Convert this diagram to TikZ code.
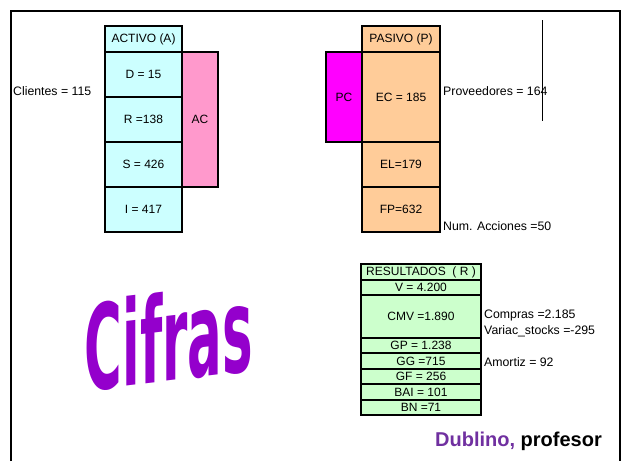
\documentclass[tikz,border=0pt]{standalone}
\usepackage{fontspec}
\setmainfont{Liberation Sans}
\newfontfamily\cifrasfont{DejaVu Sans}
\usetikzlibrary{shapes,arrows,positioning,calc,fit}
\usepackage{xcolor}
\definecolor{celeste}{HTML}{CCFFFF}
\definecolor{rosa}{HTML}{FF99CC}
\definecolor{salmon}{HTML}{FFCC99}
\definecolor{fucsia}{HTML}{FF00FF}
\definecolor{verde}{HTML}{CCFFCC}
\definecolor{morado}{HTML}{7030A0}
\definecolor{cifrascolor}{HTML}{9400CC}

\begin{document}
\begin{tikzpicture}[x=1pt, y=-1pt]
    \tikzstyle{celda} = [rectangle, draw, line width=1.2pt, inner sep=0pt, text centered, font=\fontsize{12}{14}\selectfont]
    \tikzstyle{activo} = [celda, fill=celeste, minimum width=77pt, minimum height=45pt]
    \tikzstyle{pasivo} = [celda, fill=salmon, minimum width=78pt, minimum height=45pt]
    \tikzstyle{lateral} = [celda, minimum width=36pt]
    \tikzstyle{resultado} = [celda, fill=verde, line width=1.6pt, minimum width=120pt, minimum height=15.5pt]
    \tikzstyle{texto} = [anchor=west, inner sep=0pt, font=\fontsize{12.3}{14}\selectfont]
    \tikzstyle{letrero} = [inner sep=0pt, text=cifrascolor, font=\cifrasfont\bfseries\fontsize{118}{118}\selectfont, yslant=0.12, xscale=0.435]

    \useasboundingbox (0,0) rectangle (623,461);

    % Marco
    \draw[line width=2.5pt] (11,461) -- (11,11) -- (620,11) -- (620,461);

    % Activo
    \node[activo, minimum height=26pt] (activo) at (143.5,39) {ACTIVO (A)};
    \node[activo] (disp) at (143.5,74.5) {D = 15};
    \node[activo] (real) at (143.5,119.5) {R =138};
    \node[activo] (stock) at (143.5,164.5) {S = 426};
    \node[activo] (inm) at (143.5,209.5) {I = 417};
    \node[lateral, fill=rosa, minimum height=135pt] (ac) at (200,119.5) {AC};
    \node[texto] (clientes) at (13,91) {Clientes = 115};

    % Pasivo
    \node[pasivo, minimum height=26pt] (pasivo) at (401,39) {PASIVO (P)};
    \node[pasivo, minimum height=90pt] (ec) at (401,97) {EC = 185};
    \node[pasivo] (el) at (401,164.5) {EL=179};
    \node[pasivo] (fp) at (401,209.5) {FP=632};
    \node[lateral, fill=fucsia, minimum height=90pt] (pc) at (344,97) {PC};
    \node[texto] (proveedores) at (443,91) {Proveedores = 164};
    \node[texto] (acciones) at (443,226) {Num. Acciones =50};
    \coordinate (marcaA) at (542,20);
    \coordinate (marcaB) at (542,121);
    \draw[line width=1pt] (marcaA) -- (marcaB);

    % Resultados
    \node[resultado] (resultados) at (421,272) {RESULTADOS \ ( R )};
    \node[resultado] (ventas) at (421,287.5) {V = 4.200};
    \node[resultado, minimum height=42.5pt] (cmv) at (421,316.5) {CMV =1.890};
    \node[resultado] (gp) at (421,345.5) {GP = 1.238};
    \node[resultado] (gg) at (421,361) {GG =715};
    \node[resultado] (gf) at (421,376.5) {GF = 256};
    \node[resultado] (bai) at (421,392) {BAI = 101};
    \node[resultado] (bn) at (421,407.5) {BN =71};
    \node[texto] (compras) at (484,315) {Compras =2.185};
    \node[texto] (variac) at (484,331) {Variac\_stocks =-295};
    \node[texto] (amortiz) at (484,362) {Amortiz = 92};

    % Cifras
    \node[letrero, anchor=base] (cifras) at (169,381) {Cifras};

    % Firma
    \node[anchor=base west, inner sep=0pt, font=\bfseries\fontsize{20}{24}\selectfont] (firma) at (435,446.5) {\textcolor{morado}{Dublino,} profesor};
\end{tikzpicture}
\end{document}
